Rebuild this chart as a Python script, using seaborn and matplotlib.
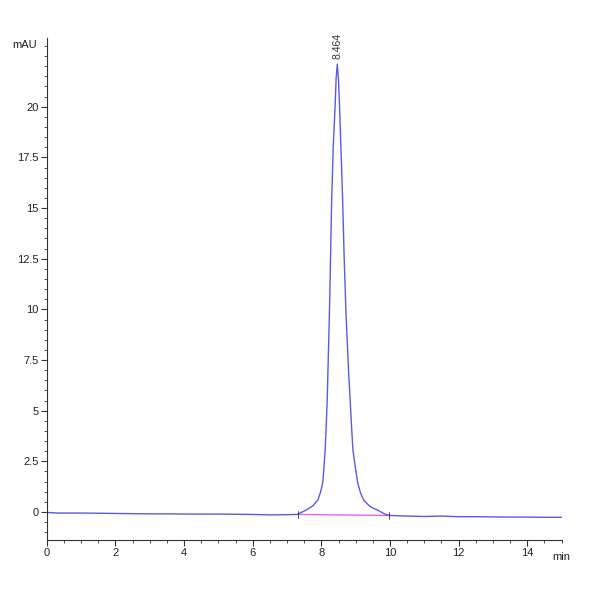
import matplotlib
matplotlib.use("Agg")
import matplotlib.pyplot as plt
import seaborn as sns
import pandas as pd
from matplotlib.ticker import MultipleLocator
from matplotlib import font_manager

# ---- data ----
time_min = [0.0, 0.3, 1.0, 1.5, 2.0, 2.5, 3.0, 3.5, 4.0, 4.5, 5.0, 5.5, 6.0, 6.5, 7.0, 7.3,
            7.56, 7.75, 7.90, 7.97, 8.04, 8.075, 8.11, 8.14, 8.17, 8.20, 8.24, 8.27, 8.30,
            8.35, 8.40, 8.43, 8.464,
            8.50, 8.53, 8.57, 8.62, 8.66, 8.72, 8.80, 8.84, 8.88, 8.92, 8.99, 9.06, 9.14,
            9.23, 9.31, 9.40, 9.50, 9.63,
            9.85, 10.0, 10.5, 11.0, 11.5, 12.0, 12.5, 13.0, 13.5, 14.0, 14.5, 15.0]
signal_mau = [-0.02, -0.05, -0.05, -0.06, -0.07, -0.08, -0.09, -0.09, -0.10, -0.10, -0.10, -0.11,
              -0.12, -0.14, -0.13, -0.12,
              0.10, 0.30, 0.60, 0.95, 1.43, 2.2, 3.06, 4.2, 5.5, 7.5, 10.2, 12.8, 15.4,
              18.2, 20.0, 21.4, 22.1,
              21.3, 20.0, 18.0, 15.4, 12.8, 9.7, 6.7, 5.5, 4.2, 3.06, 2.2, 1.43, 0.95,
              0.60, 0.45, 0.30, 0.20, 0.10,
              -0.10, -0.17, -0.20, -0.22, -0.20, -0.23, -0.23, -0.24, -0.25, -0.25, -0.26, -0.26]
baseline_time = [7.33, 9.98]
baseline_mau = [-0.12, -0.17]
peak_rt = 8.464
peak_height = 22.1
peak_label = "8.464"

df = pd.DataFrame({"t": time_min, "mAU": signal_mau})
bdf = pd.DataFrame({"t": baseline_time, "mAU": baseline_mau})

sns.set_theme(style="white")
avail = {f.name for f in font_manager.fontManager.ttflist}
fam = ["Liberation Sans Narrow", "DejaVu Sans"] if "Liberation Sans Narrow" in avail else ["Liberation Sans", "DejaVu Sans"]
plt.rcParams["font.family"] = fam

fig = plt.figure(figsize=(6, 6), dpi=100)
ax = fig.add_axes([0.078, 0.10, 0.858, 0.837])

sns.lineplot(data=bdf, x="t", y="mAU", ax=ax, color="#f060f0", linewidth=1.0)
sns.lineplot(data=df, x="t", y="mAU", ax=ax, color="#5a5ae6", linewidth=1.0)

# integration start/end marks
for bt, bm in zip(baseline_time, baseline_mau):
    ax.plot([bt, bt], [bm - 0.15, bm + 0.15], color="#333333", linewidth=0.6)

ax.text(peak_rt, peak_height + 0.25, peak_label, rotation=90, ha="center", va="bottom",
        fontsize=7.5, color="#333333")

ax.set_xlim(0, 15)
ax.set_ylim(-1.38, 23.4)
ax.xaxis.set_major_locator(MultipleLocator(2))
ax.xaxis.set_minor_locator(MultipleLocator(0.5))
ax.yaxis.set_major_locator(MultipleLocator(2.5))
ax.yaxis.set_minor_locator(MultipleLocator(0.5))
ax.set_yticks([0, 2.5, 5, 7.5, 10, 12.5, 15, 17.5, 20])
ax.set_yticklabels(["0", "2.5", "5", "7.5", "10", "12.5", "15", "17.5", "20"])

ax.tick_params(axis="both", which="major", direction="out", length=4, width=0.8,
               color="#333333", labelsize=8, labelcolor="#222222", pad=2)
ax.tick_params(axis="both", which="minor", direction="out", length=2.5, width=0.6,
               color="#333333")
ax.tick_params(axis="x", which="both", bottom=True)
ax.tick_params(axis="y", which="both", left=True)

for s in ["top", "right"]:
    ax.spines[s].set_visible(False)
for s in ["left", "bottom"]:
    ax.spines[s].set_color("#333333")
    ax.spines[s].set_linewidth(0.8)

ax.set_xlabel("")
ax.set_ylabel("")
fig.text(0.062, 0.925, "mAU", ha="right", va="center", fontsize=8, color="#222222")
fig.text(0.935, 0.071, "min", ha="center", va="center", fontsize=8, color="#222222")

fig.savefig("out.png", dpi=100, facecolor="white")
